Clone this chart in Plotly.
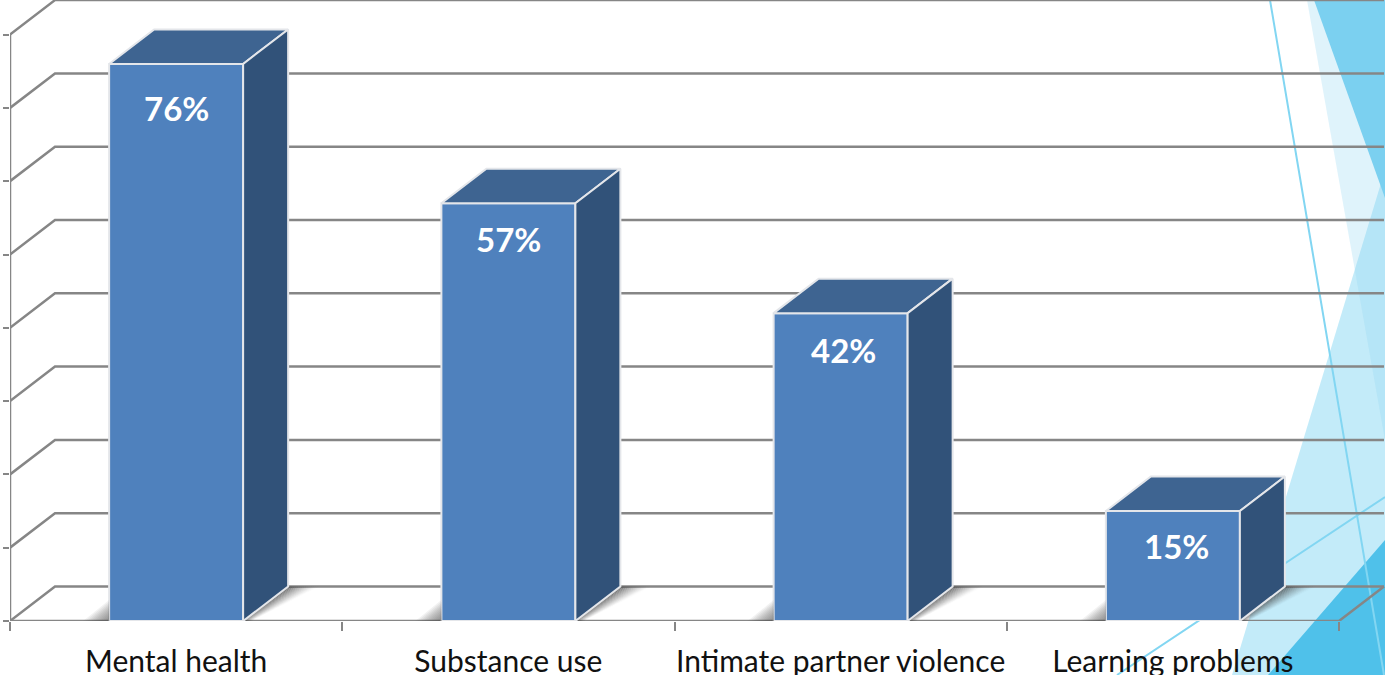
import plotly.graph_objects as go

# ---- data ----
categories = ["Mental health", "Substance use", "Intimate partner violence", "Learning problems"]
percent_values = [76, 57, 42, 15]
axis_levels = [0, 10, 20, 30, 40, 50, 60, 70, 80]
label_drop_px = [44, 36, 37, 35]
label_shift_px = [0, 0, 3, 4]

# ---- chart geometry (pixels, converted through the axis scales) ----
W, H = 1385, 675
ML, MB = 10, 54
PX_PER_CAT = 332.25
PX_PER_PCT = 7.33
DX = 45 / PX_PER_CAT          # depth in x units
DY = 34.5 / PX_PER_PCT        # depth in y units
BAR_W = 134 / PX_PER_CAT
X0, X1 = -0.5, 3.5

GRID = "#868686"
FRONT, TOP, SIDE = "#4f81bd", "#3e6491", "#315279"
EDGE = "#e4e6ea"

def px(v):
    return v / PX_PER_CAT

def pct(v):
    return v / PX_PER_PCT

fig = go.Figure()

# ---- decorative slide background ----
def deco(path, color, **kw):
    return dict(type="path", path=path, xref="paper", yref="paper", layer="below",
                fillcolor=color, line=dict(width=0), **kw)

def P(pts):
    plot_w, plot_h = W - ML, H - MB
    return "M" + " L".join(f"{(x-ML)/plot_w:.5f},{1-y/plot_h:.5f}" for x, y in pts) + " Z"

shapes = [
    deco(P([(1232, 675), (1385, 170), (1385, 675)]), "#c3ebf9"),
    deco(P([(1307, 0), (1385, 0), (1385, 440)]), "rgba(150,215,242,0.30)"),
    deco(P([(1314, 0), (1385, 0), (1385, 198)]), "#7bd0f0"),
    deco(P([(1268, 675), (1385, 540), (1385, 675)]), "#4fc1ea"),
    deco(P([(1270, 0), (1384, 675), (1384, 675)]), "rgba(0,0,0,0)"),
]
shapes[-1]["line"] = dict(color="#82d6f2", width=2)
shapes.append(deco(P([(1117, 675), (1385, 497), (1385, 497)]), "rgba(0,0,0,0)"))
shapes[-1]["line"] = dict(color="#82d6f2", width=2)

# ---- gridlines: wall and floor ----
def seg_path(xs, ys):
    return "M" + " L".join(f"{x:.5f},{y:.5f}" for x, y in zip(xs, ys))

for lv in axis_levels:
    shapes.append(dict(type="path", xref="x", yref="y", layer="below",
                       path=seg_path([X0, X0 + DX, X1 + DX], [lv, lv + DY, lv + DY]),
                       line=dict(color=GRID, width=2.5)))
shapes.append(dict(type="path", xref="x", yref="y", layer="below",
                   path=seg_path([X0, X1, X1 + DX], [0, 0, DY]),
                   line=dict(color=GRID, width=2.5)))
shapes.append(dict(type="line", xref="x", yref="y", layer="below",
                   x0=X0, x1=X0, y0=0, y1=axis_levels[-1],
                   line=dict(color=GRID, width=2.5)))

# ---- front faces ----
fig.add_trace(go.Bar(
    x=list(range(len(categories))), y=percent_values, width=BAR_W,
    marker=dict(color=FRONT, line=dict(color=EDGE, width=2)),
    showlegend=False, hoverinfo="skip",
))

# ---- floor shadows, top and side faces ----
for i, v in enumerate(percent_values):
    xl, xr = i - BAR_W / 2, i + BAR_W / 2
    # right shadow: a fan of thin slices fading out
    n = 16
    for k in range(n):
        t0, t1 = k / n, (k + 1) / n
        a = 0.78 * (1 - (k + 0.5) / n) ** 1.4
        fig.add_trace(go.Scatter(
            x=[xr + px(9 * t0), xr + DX + px(32 * t0), xr + DX + px(32 * t1), xr + px(9 * t1)],
            y=[0, DY, DY, 0], mode="lines", fill="toself", line=dict(width=0),
            fillcolor=f"rgba(60,60,60,{a:.3f})", showlegend=False, hoverinfo="skip"))
    # left shadow: nested triangles, densest at the base corner of the bar
    m = 12
    for k in range(m):
        s = 1 - k / m
        fig.add_trace(go.Scatter(
            x=[xl - px(26 * s), xl, xl], y=[0, pct(21 * s), 0], mode="lines", fill="toself",
            line=dict(width=0), fillcolor="rgba(80,80,80,0.075)",
            showlegend=False, hoverinfo="skip"))
    # top
    fig.add_trace(go.Scatter(
        x=[xl, xl + DX, xr + DX, xr, xl], y=[v, v + DY, v + DY, v, v],
        mode="lines", fill="toself", fillcolor=TOP,
        line=dict(color=EDGE, width=2), showlegend=False, hoverinfo="skip"))
    # side
    fig.add_trace(go.Scatter(
        x=[xr, xr + DX, xr + DX, xr, xr], y=[0, DY, v + DY, v, 0],
        mode="lines", fill="toself", fillcolor=SIDE,
        line=dict(color=EDGE, width=2), showlegend=False, hoverinfo="skip"))

# ---- value labels ----
annotations = [
    dict(x=i, y=v, xref="x", yref="y", text=f"<b>{v}%</b>", showarrow=False,
         yshift=-label_drop_px[i], xshift=label_shift_px[i],
         font=dict(family="Lato, Carlito, sans-serif", size=33, color="white"))
    for i, v in enumerate(percent_values)
]

fig.update_layout(
    width=W, height=H, autosize=False,
    margin=dict(l=ML, r=0, t=0, b=MB, pad=0, autoexpand=False),
    paper_bgcolor="white", plot_bgcolor="rgba(0,0,0,0)",
    showlegend=False, shapes=shapes, annotations=annotations, barmode="overlay",
    xaxis=dict(
        automargin=False,
        range=[X0, X0 + (W - ML) / PX_PER_CAT], showgrid=False, zeroline=False, showline=False,
        tickmode="array", tickvals=list(range(len(categories))), ticktext=categories,
        ticks="", ticklabelstandoff=20,
        tickfont=dict(family="Lato, Carlito, sans-serif", size=30, color="#111111"),
        minor=dict(tickmode="array", tickvals=[X0 + k for k in range(len(categories) + 1)],
                   ticks="outside", ticklen=9, tickwidth=2, tickcolor=GRID, showgrid=False),
    ),
    yaxis=dict(
        automargin=False,
        range=[0, (H - MB) / PX_PER_PCT], showgrid=False, zeroline=False, showline=False,
        tickmode="array", tickvals=axis_levels, ticks="outside", ticklen=6, tickwidth=2,
        tickcolor=GRID, showticklabels=False,
    ),
)

fig.write_html("out.html", config=dict(displayModeBar=False),
               post_script="document.body.style.margin='0';document.body.style.overflow='hidden';")
